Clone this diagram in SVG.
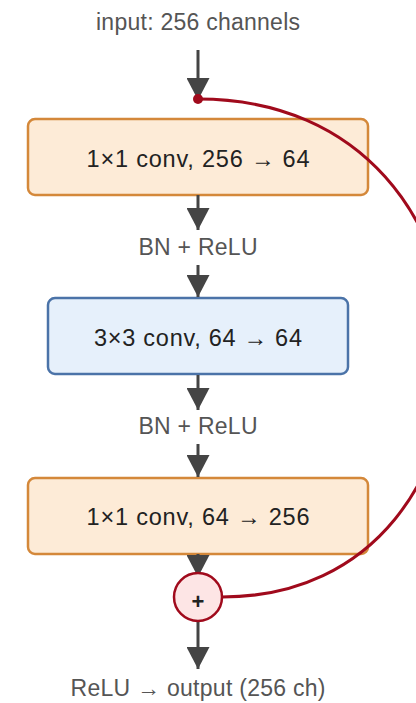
<svg xmlns="http://www.w3.org/2000/svg" width="416" height="703" viewBox="0 0 416 703">
<style>
.lbl{font-family:"Liberation Sans",Arial,sans-serif;font-size:23px;fill:#555;text-anchor:middle}
.btx{font-family:"Liberation Sans",Arial,sans-serif;font-size:23.5px;fill:#222;text-anchor:middle}
.orange{fill:#fdebd7;stroke:#d4883a;stroke-width:2.5}
.blue{fill:#e6f0fb;stroke:#4b73a8;stroke-width:2.5}
.arr{stroke:#444;stroke-width:3;fill:none;marker-end:url(#ah)}
.skip{stroke:#a00a1c;stroke-width:3;fill:none}
</style>
<defs>
<marker id="ah" viewBox="0 0 22 23" markerWidth="22" markerHeight="23" refX="22" refY="11.5" markerUnits="userSpaceOnUse" orient="auto">
<path d="M0,0 L22,11.5 L0,23 Z" fill="#444"/>
</marker>
</defs>
<text class="lbl" x="198" y="30" textLength="204" lengthAdjust="spacing">input: 256 channels</text>
<g id="conv1">
<rect class="orange" x="28" y="119" width="340" height="76" rx="7"/>
<text class="btx" x="198" y="167" textLength="223" lengthAdjust="spacing">1×1 conv, 256 → 64</text>
</g>
<g id="conv2">
<rect class="blue" x="48" y="298" width="300" height="76" rx="7"/>
<text class="btx" x="198" y="346" textLength="208" lengthAdjust="spacing">3×3 conv, 64 → 64</text>
</g>
<g id="conv3">
<rect class="orange" x="28" y="478" width="340" height="76" rx="7"/>
<text class="btx" x="198" y="525" textLength="223" lengthAdjust="spacing">1×1 conv, 64 → 256</text>
</g>
<g id="bn1"><text class="lbl" x="198" y="255" textLength="119" lengthAdjust="spacing">BN + ReLU</text></g>
<g id="bn2"><text class="lbl" x="198" y="434" textLength="119" lengthAdjust="spacing">BN + ReLU</text></g>
<g id="connectors">
<line class="arr" x1="198" y1="50" x2="198" y2="100"/>
<line class="arr" x1="198" y1="195" x2="198" y2="230"/>
<line class="arr" x1="198" y1="265" x2="198" y2="297"/>
<line class="arr" x1="198" y1="375" x2="198" y2="410"/>
<line class="arr" x1="198" y1="444" x2="198" y2="477"/>
<line class="arr" x1="198" y1="554" x2="198" y2="577"/>
<line class="arr" x1="198" y1="622" x2="198" y2="669"/>
<path class="skip" d="M198,99 C530,99 530,597 222,597"/>
<circle cx="198" cy="99" r="5" fill="#a00a1c"/>
</g>
<g id="add">
<circle cx="198" cy="597" r="24" fill="#fde5e5" stroke="#a00a1c" stroke-width="2.5"/>
<text x="198" y="609" style="font-family:'Liberation Sans',Arial,sans-serif;font-size:22px;font-weight:bold;fill:#222;text-anchor:middle">+</text>
</g>
<g id="output"><text class="lbl" x="198" y="696" textLength="255" lengthAdjust="spacing">ReLU → output (256 ch)</text></g>
</svg>
